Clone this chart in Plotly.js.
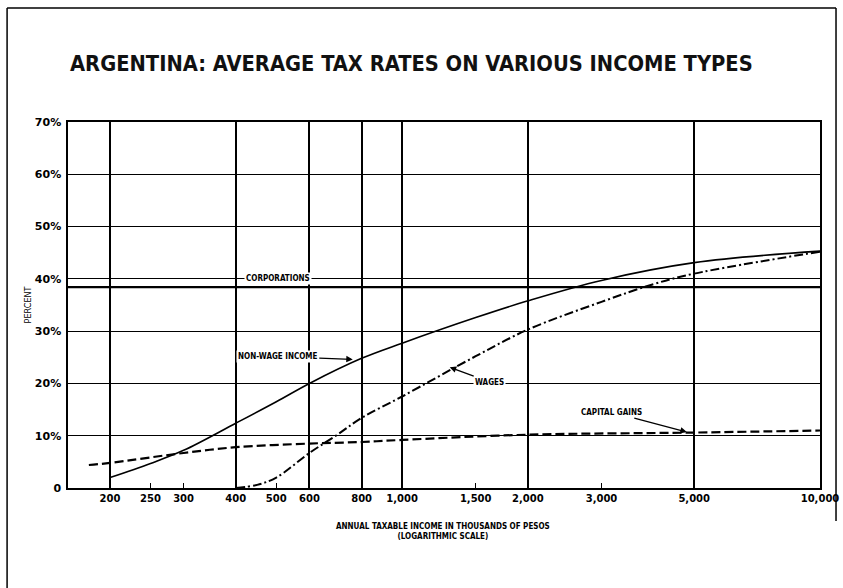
<!DOCTYPE html>
<html>
<head>
<meta charset="utf-8">
<script src="https://cdn.plot.ly/plotly-3.0.1.min.js"></script>
<style>
  html, body { margin: 0; padding: 0; background: #ffffff; }
  #graphique { width: 843px; height: 588px; }
</style>
</head>
<body>
<div id="graphique"></div>
<script>
// Revenu imposable (milliers de pesos) et taux moyens
const revenu_non_salarial = [200, 250, 300, 400, 500, 600, 800, 1000, 1500, 2000, 3000, 5000, 10000];
const taux_non_salarial = [2, 4.7, 7.2, 12.4, 16.5, 20, 24.8, 27.7, 32.6, 35.8, 39.7, 43.1, 45.3];

const revenu_salaires = [400, 450, 500, 600, 700, 800, 1000, 1500, 2000, 3000, 4000, 5000, 10000];
const taux_salaires = [0, 0.6, 2, 6.7, 10.2, 13.4, 17.5, 25.2, 30.3, 35.6, 39, 41, 45.2];

const revenu_plus_values = [178, 200, 300, 400, 600, 800, 1000, 2000, 5000, 10000];
const taux_plus_values = [4.4, 4.8, 6.7, 7.8, 8.5, 8.8, 9.2, 10.2, 10.6, 11];

const revenu_societes = [158, 10000];
const taux_societes = [38.4, 38.4];

// Axes
const ticks_x = [200, 250, 300, 400, 500, 600, 800, 1000, 1500, 2000, 3000, 5000, 10000];
const etiquettes_x = ["200", "250", "300", "400", "500", "600", "800", "1,000", "1,500", "2,000", "3,000", "5,000", "10,000"];
const grille_x = [200, 400, 600, 800, 1000, 2000, 5000, 10000];
const ticks_y = [0, 10, 20, 30, 40, 50, 60, 70];
const etiquettes_y = ["0", "10%", "20%", "30%", "40%", "50%", "60%", "70%"];

// Étiquettes des courbes : [texte, revenu, taux, décalage x, décalage y]
const etiquettes_courbes = [
    ["NON-WAGE INCOME", 762, 24.6, -75, -3],
    ["WAGES", 1300, 23.1, 40, 15],
    ["CAPITAL GAINS", 4800, 10.7, -75, -20]
];

let police_etroite = "'DejaVu Sans Condensed', 'Liberation Sans Narrow', Arial, sans-serif";
let police_large = "'DejaVu Sans', Verdana, sans-serif";

let donnee = [
    {
        x: revenu_societes, y: taux_societes, xaxis: "x2",
        type: "scatter", mode: "lines", name: "Corporations",
        line: {color: "black", width: 2.2}, hoverinfo: "skip"
    },
    {
        x: revenu_plus_values, y: taux_plus_values,
        type: "scatter", mode: "lines", name: "Capital gains",
        line: {color: "black", width: 2.2, dash: "9px,4px", shape: "spline"}
    },
    {
        x: revenu_salaires, y: taux_salaires,
        type: "scatter", mode: "lines", name: "Wages",
        line: {color: "black", width: 2, dash: "9px,3px,2px,3px", shape: "spline"}
    },
    {
        x: revenu_non_salarial, y: taux_non_salarial,
        type: "scatter", mode: "lines", name: "Non-wage income",
        line: {color: "black", width: 1.6, shape: "spline"}
    }
];

let annotations = [
    {
        text: "CORPORATIONS", x: Math.log10(505), y: 40, xref: "x", yref: "y",
        showarrow: false, bgcolor: "white", borderpad: 1,
        font: {family: police_etroite, size: 8, color: "black", weight: "bold"}
    },
    {
        text: "PERCENT", xref: "paper", yref: "paper", x: -0.062, y: 0.5,
        textangle: -90, showarrow: false,
        font: {family: police_etroite, size: 9, color: "black"}
    },
    {
        text: "ANNUAL TAXABLE INCOME IN THOUSANDS OF PESOS<br>(LOGARITHMIC SCALE)",
        xref: "paper", yref: "paper", x: 0.499, y: -0.12, yanchor: "middle",
        showarrow: false,
        font: {family: police_etroite, size: 8, color: "black", weight: "bold"}
    }
];

for (let index = 0; index < etiquettes_courbes.length; index = index + 1) {
    let e = etiquettes_courbes[index];
    annotations.push({
        text: e[0], x: Math.log10(e[1]), y: e[2], xref: "x", yref: "y",
        ax: e[3], ay: e[4], showarrow: true,
        arrowhead: 2, arrowsize: 1, arrowwidth: 1.3, arrowcolor: "black",
        bgcolor: "white", borderpad: 1,
        font: {family: police_etroite, size: 8, color: "black", weight: "bold"}
    });
}

let axe_x = {
    type: "log",
    range: [2.2005, 4],
    tickvals: ticks_x,
    ticktext: etiquettes_x,
    ticks: "inside", ticklen: 5, tickwidth: 1.3, tickcolor: "black",
    showgrid: false, zeroline: false,
    showline: true, mirror: true, linecolor: "black", linewidth: 1.6,
    tickfont: {family: police_large, size: 10, color: "black", weight: "bold"}
};

let apparence = {
    width: 843,
    height: 588,
    paper_bgcolor: "white",
    plot_bgcolor: "white",
    showlegend: false,
    margin: {l: 68, r: 23, t: 122, b: 100},
    title: {
        text: "ARGENTINA: AVERAGE TAX RATES ON VARIOUS INCOME TYPES",
        xref: "container", yref: "container",
        x: 0.488, xanchor: "center", y: 0.893, yanchor: "middle",
        font: {family: police_etroite, size: 21.7, color: "#111111", weight: "bold"}
    },
    xaxis: axe_x,
    xaxis2: {
        type: "log",
        range: [2.2005, 4],
        overlaying: "x",
        anchor: "y",
        tickvals: grille_x,
        showticklabels: false,
        ticks: "",
        showgrid: true, gridcolor: "black", gridwidth: 1.8,
        zeroline: false, showline: false
    },
    yaxis: {
        range: [0, 70],
        tickvals: ticks_y,
        ticktext: etiquettes_y,
        ticks: "", ticklabelstandoff: 3,
        showgrid: true, gridcolor: "black", gridwidth: 1.2,
        zeroline: false,
        showline: true, mirror: true, linecolor: "black", linewidth: 1.6,
        tickfont: {family: police_large, size: 11, color: "black", weight: "bold"}
    },
    annotations: annotations,
    shapes: [
        // Cadre de la page scannée
        {type: "line", xref: "paper", yref: "paper", x0: -0.081, x1: 1.0213, y0: 1.3115, y1: 1.3115, line: {color: "black", width: 1.5}},
        {type: "line", xref: "paper", yref: "paper", x0: -0.081, x1: -0.081, y0: 1.3115, y1: -0.28, line: {color: "black", width: 1.5}},
        {type: "line", xref: "paper", yref: "paper", x0: 1.0213, x1: 1.0213, y0: 1.3115, y1: -0.09, line: {color: "black", width: 1.5}}
    ]
};

Plotly.newPlot("graphique", donnee, apparence, {staticPlot: true});
</script>
</body>
</html>
